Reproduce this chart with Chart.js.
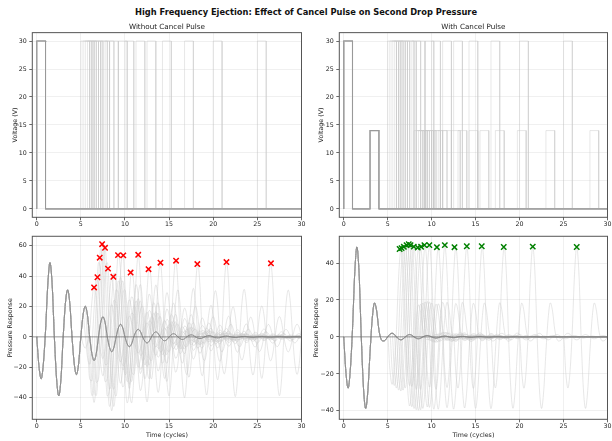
<!DOCTYPE html>
<html>
<head>
<meta charset="utf-8">
<script src="https://cdn.jsdelivr.net/npm/chart.js@4.4.1/dist/chart.umd.min.js"></script>
<style>
  body { margin: 0; background: #fff; width: 612px; height: 441px; position: relative; overflow: hidden; font-family: "DejaVu Sans", sans-serif; }
  canvas { position: absolute; }
  #suptitle { position: absolute; left: 0; top: 7px; width: 612px; text-align: center; font-weight: bold; font-size: 8.3px; color: #111; }
</style>
</head>
<body>
<div id="suptitle">High Frequency Ejection: Effect of Cancel Pulse on Second Drop Pressure</div>
<canvas id="voltNoCancel" width="306" height="215" style="left:0;top:17px"></canvas>
<canvas id="voltCancel" width="306" height="215" style="left:306px;top:17px"></canvas>
<canvas id="pressNoCancel" width="306" height="211" style="left:0;top:230px"></canvas>
<canvas id="pressCancel" width="306" height="211" style="left:306px;top:230px"></canvas>
<script>
// pressure response of one drop, one value every 0.25 cycle (t = 0 .. 30)
const sampleStep = 0.25
const responseNoCancel = [
    0, -19, -27.6, -18, 4, 34, 48.9, 34.5, 0, -27.5, -38.9, -27.5, 0, 22, 31, 22,
    0, -17.5, -24.8, -17.5, 0, 14.3, 20.2, 14.3, 0, -11, -15.6, -11, 0, 9.4, 13.3, 9.4,
    0, -6.9, -9.8, -6.9, 0, 5.9, 8.3, 5.9, 0, -4.6, -6.5, -4.6, 0, 3.5, 5.0, 3.5,
    0, -2.8, -4.0, -2.8, 0, 2.3, 3.3, 2.3, 0, -1.8, -2.6, -1.8, 0, 1.5, 2.1, 1.5,
    0, -1.2, -1.7, -1.2, 0, 1.0, 1.35, 1.0, 0, -0.8, -1.1, -0.8, 0, 0.6, 0.87, 0.6,
    0, -0.5, -0.7, -0.5, 0, 0.4, 0.55, 0.4, 0, -0.3, -0.45, -0.3, 0, 0.25, 0.36, 0.25,
    0, -0.2, -0.29, -0.2, 0, 0.16, 0.23, 0.16, 0, -0.13, -0.18, -0.13, 0, 0.1, 0.15, 0.1,
    0, -0.08, -0.12, -0.08, 0, 0.06, 0.09, 0.06, 0
]
const responseCancel = [
    0, -19, -27.7, -18, 4, 34, 48.7, 34.5, 0, -27.5, -38.7, -29, -8, 10, 18.4, 14,
    4, -1.2, -2.2, -1.6, 0, 1.4, 2.0, 1.4, 0, -1.1, -1.6, -1.1, 0, 0.9, 1.3, 0.9,
    0, -0.7, -1.0, -0.7, 0, 0.55, 0.8, 0.55, 0, -0.45, -0.64, -0.45, 0, 0.35, 0.5, 0.35,
    0, -0.28, -0.4, -0.28, 0, 0.23, 0.33, 0.23, 0, -0.18, -0.26, -0.18, 0, 0.15, 0.21, 0.15,
    0, -0.12, -0.17, -0.12, 0, 0.1, 0.13, 0.1, 0, -0.08, -0.1, -0.08, 0, 0.06, 0.08, 0.06,
    0, -0.05, -0.06, -0.05, 0, 0.04, 0.05, 0.04, 0, -0.03, -0.04, -0.03, 0, 0.02, 0.03, 0.02,
    0, -0.02, -0.02, -0.02, 0, 0.01, 0.02, 0.01, 0, -0.01, -0.01, -0.01, 0, 0, 0.01, 0,
    0, 0, -0.01, 0, 0, 0, 0, 0, 0
]

// second drop delays (cycles) of the light grey runs
const secondDropDelays = [5.0, 5.25, 5.5, 5.75, 6.0, 6.25, 6.5, 7.0, 7.25, 7.75, 8.25, 9.25, 10.0, 11.25, 12.5, 14.25, 16.75, 20.0, 25.0]

// pulses: [start, width, volts]
const ejectPulse = [0, 1, 30]
const cancelPulse = [3, 1, 14]

// second drop peaks marked with x
const peakTimesNoCancel = [6.5, 6.88, 7.14, 7.41, 7.74, 8.08, 8.68, 9.21, 9.81, 10.64, 11.5, 12.67, 14.02, 15.79, 18.2, 21.5, 26.54]
const peakValuesNoCancel = [32.6, 39.3, 52.2, 61.1, 58.7, 45.0, 39.6, 53.9, 53.7, 42.4, 54.1, 44.6, 48.9, 50.2, 48.0, 49.3, 48.5]
const peakTimesCancel = [6.36, 6.58, 6.84, 7.15, 7.4, 7.6, 7.97, 8.42, 8.8, 9.18, 9.74, 10.6, 11.5, 12.6, 14.0, 15.7, 18.2, 21.5, 26.5]
const peakValuesCancel = [47.6, 48.1, 48.8, 49.7, 50.2, 49.7, 48.9, 48.4, 48.8, 49.7, 49.7, 48.6, 49.7, 48.6, 49.1, 49.1, 48.7, 48.9, 48.7]

const xTicks = [0, 5, 10, 15, 20, 25, 30]

const FONT = 'DejaVu Sans'
const TEXT = '#222'
const FAINT = 'rgba(200,200,200,0.55)'
const DARK = '#7d7d7d'

function pressureTrace(response, delay){
    const shift = Math.round(delay / sampleStep)
    return response.map((p, i) => ({x: i * sampleStep, y: i >= shift ? p + response[i - shift] : p}))
}

function voltageTrace(pulses){
    const pts = [{x: 0, y: 0}]
    pulses.forEach(([start, width, volts]) => {
        pts.push({x: start, y: 0}, {x: start, y: volts}, {x: start + width, y: volts}, {x: start + width, y: 0})
    })
    pts.push({x: 30, y: 0})
    return pts
}

const spines = {
    id: 'spines',
    afterDatasetsDraw(chart){
        const {ctx, chartArea: a} = chart
        ctx.save()
        ctx.strokeStyle = '#555'
        ctx.lineWidth = 1
        ctx.strokeRect(a.left, a.top, a.right - a.left, a.bottom - a.top)
        ctx.restore()
    }
}

function lineSet(data, color, width, order, smooth){
    return {
        data, showLine: true, borderColor: color, borderWidth: width, pointRadius: 0,
        cubicInterpolationMode: smooth ? 'monotone' : 'default', tension: 0, order
    }
}

function makePanel(id, datasets, o){
    return new Chart(document.getElementById(id), {
        type: 'scatter',
        data: {datasets},
        plugins: [spines],
        options: {
            responsive: false,
            animation: false,
            devicePixelRatio: 1,
            layout: {autoPadding: false, padding: {top: o.padTop, right: o.padRight, left: 0, bottom: 0}},
            plugins: {
                legend: {display: false},
                tooltip: {enabled: false},
                title: {
                    display: !!o.title, text: o.title, fullSize: false, color: TEXT,
                    font: {family: FONT, size: 7.2, weight: 'normal'}, padding: {top: 5.5, bottom: 1.5}
                }
            },
            scales: {
                x: {
                    type: 'linear', min: -0.5, max: 30,
                    afterFit: s => { s.height = o.xHeight },
                    afterBuildTicks: s => { s.ticks = xTicks.map(v => ({value: v})) },
                    border: {display: false},
                    grid: {color: 'rgba(0,0,0,0.08)', lineWidth: 0.8, tickLength: 3, tickColor: '#444', tickWidth: 0.8},
                    ticks: {color: TEXT, font: {family: FONT, size: 6.3}, padding: 0.5, maxRotation: 0, autoSkip: false},
                    title: {display: !!o.xTitle, text: o.xTitle, color: TEXT, font: {family: FONT, size: 6.3}, padding: {top: 0, bottom: 2.2}}
                },
                y: {
                    min: o.yMin, max: o.yMax,
                    afterFit: s => { s.width = o.yWidth },
                    border: {display: false},
                    grid: {color: 'rgba(0,0,0,0.08)', lineWidth: 0.8, tickLength: 3, tickColor: '#444', tickWidth: 0.8},
                    ticks: {stepSize: o.yStep, includeBounds: false, color: TEXT, font: {family: FONT, size: 6.3}, padding: 2.5,
                        callback: v => v < 0 ? '\u2212' + Math.abs(v) : v},
                    title: {display: true, text: o.yTitle, color: TEXT, font: {family: FONT, size: 6.3}, padding: {top: o.yTitlePad, bottom: 0}}
                }
            }
        }
    })
}

function markers(times, values, color){
    return {
        data: times.map((t, i) => ({x: t, y: values[i]})),
        pointStyle: 'crossRot', pointRadius: 3.8, borderWidth: 1.5, borderColor: color, backgroundColor: color,
        showLine: false, order: 0
    }
}

document.addEventListener('DOMContentLoaded', () => {
    const zeroLine = () => lineSet([{x: -0.5, y: 0}, {x: 30, y: 0}], 'rgba(0,0,0,0.3)', 1.3, 2, false)

    makePanel('voltNoCancel', [
        lineSet(voltageTrace([ejectPulse]), '#999', 1.1, 1, false),
        ...secondDropDelays.map(d => lineSet(voltageTrace([ejectPulse, [d, ejectPulse[1], ejectPulse[2]]]), FAINT, 0.8, 3, false))
    ], {title: 'Without Cancel Pulse', yTitle: 'Voltage (V)', yMin: -1.5, yMax: 31.5, yStep: 5,
        yWidth: 32.3, yTitlePad: 11.2, xHeight: 14.7, padTop: 0, padRight: 2.7})

    makePanel('voltCancel', [
        lineSet(voltageTrace([ejectPulse, cancelPulse]), '#999', 1.1, 1, false),
        ...secondDropDelays.map(d => lineSet(voltageTrace([ejectPulse, cancelPulse,
            [d, ejectPulse[1], ejectPulse[2]], [d + cancelPulse[0], cancelPulse[1], cancelPulse[2]]]), FAINT, 0.8, 3, false))
    ], {title: 'With Cancel Pulse', yTitle: 'Voltage (V)', yMin: -1.5, yMax: 31.5, yStep: 5,
        yWidth: 33.3, yTitlePad: 11.2, xHeight: 14.7, padTop: 0, padRight: 1.7})

    makePanel('pressNoCancel', [
        markers(peakTimesNoCancel, peakValuesNoCancel, '#ff0000'),
        lineSet(pressureTrace(responseNoCancel, 99), DARK, 0.8, 1, true),
        zeroLine(),
        ...secondDropDelays.map(d => lineSet(pressureTrace(responseNoCancel, d), FAINT, 0.8, 3, true))
    ], {yTitle: 'Pressure Response', xTitle: 'Time (cycles)', yMin: -54.3, yMax: 66.3, yStep: 20,
        yWidth: 32.3, yTitlePad: 6.2, xHeight: 21.7, padTop: 4.3, padRight: 2.7})

    makePanel('pressCancel', [
        markers(peakTimesCancel, peakValuesCancel, '#008000'),
        lineSet(pressureTrace(responseCancel, 99), DARK, 0.8, 1, true),
        zeroLine(),
        ...secondDropDelays.map(d => lineSet(pressureTrace(responseCancel, d), FAINT, 0.8, 3, true))
    ], {yTitle: 'Pressure Response', xTitle: 'Time (cycles)', yMin: -44.6, yMax: 54.5, yStep: 20,
        yWidth: 33.3, yTitlePad: 6.9, xHeight: 21.7, padTop: 4.3, padRight: 1.7})
})
</script>
</body>
</html>
